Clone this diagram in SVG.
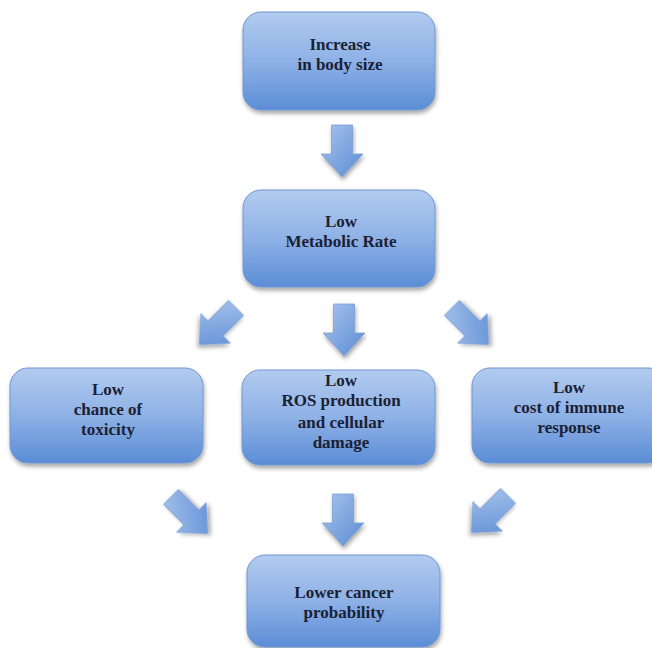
<svg xmlns="http://www.w3.org/2000/svg" width="652" height="648" viewBox="0 0 652 648">
<defs>
<linearGradient id="boxg" x1="0" y1="0" x2="0" y2="1">
<stop offset="0" stop-color="#b2cbef"/>
<stop offset="0.5" stop-color="#8eb1e6"/>
<stop offset="1" stop-color="#5b8dd6"/>
</linearGradient>
<linearGradient id="arrg" x1="0" y1="0" x2="1" y2="1">
<stop offset="0" stop-color="#a9c4ec"/>
<stop offset="1" stop-color="#5a8bd4"/>
</linearGradient>
<filter id="sh" x="-20%" y="-20%" width="140%" height="150%">
<feDropShadow dx="1" dy="3" stdDeviation="2.2" flood-color="#000" flood-opacity="0.35"/>
</filter>
<path id="arrow" d="M-10.5,-27 L10.5,-27 L10.5,2 L21,2 L0,25 L-21,2 L-10.5,2 Z"/>
</defs>
<style>
.box { fill: url(#boxg); stroke: #7096cf; stroke-width: 1; filter: url(#sh); }
.arr { fill: url(#arrg); stroke: #7d9fd4; stroke-width: 0.8; filter: url(#sh); }
text { font-family: "Liberation Serif", "Times New Roman", serif; font-weight: bold; font-size: 17px; fill: #1b2134; text-anchor: middle; }
</style>
<rect width="652" height="648" fill="#ffffff"/>
<g id="connectors">
<use href="#arrow" class="arr" transform="translate(342,152)"/>
<use href="#arrow" class="arr" transform="translate(344,331)"/>
<use href="#arrow" class="arr" transform="translate(217,327) rotate(45)"/>
<use href="#arrow" class="arr" transform="translate(471,327) rotate(-45)"/>
<use href="#arrow" class="arr" transform="translate(343,521)"/>
<use href="#arrow" class="arr" transform="translate(190,516) rotate(-45)"/>
<use href="#arrow" class="arr" transform="translate(489,515) rotate(45)"/>
</g>
<g id="node-body-size">
<rect class="box" x="243" y="12" width="192" height="98" rx="18"/>
<text x="340" y="50">Increase</text>
<text x="340" y="70">in body size</text>
</g>
<g id="node-metabolic">
<rect class="box" x="243" y="190" width="192" height="97" rx="18"/>
<text x="341" y="227">Low</text>
<text x="341" y="247">Metabolic Rate</text>
</g>
<g id="node-toxicity">
<rect class="box" x="10" y="368" width="193" height="95" rx="18"/>
<text x="108" y="395">Low</text>
<text x="108" y="415">chance of</text>
<text x="108" y="435">toxicity</text>
</g>
<g id="node-ros">
<rect class="box" x="242" y="370" width="193" height="95" rx="18"/>
<text x="341" y="386">Low</text>
<text x="341" y="406">ROS production</text>
<text x="341" y="428">and cellular</text>
<text x="341" y="448">damage</text>
</g>
<g id="node-immune">
<rect class="box" x="472" y="368" width="194" height="95" rx="18"/>
<text x="569" y="393">Low</text>
<text x="569" y="413">cost of immune</text>
<text x="569" y="433">response</text>
</g>
<g id="node-cancer">
<rect class="box" x="247" y="555" width="193" height="92" rx="18"/>
<text x="344" y="598">Lower cancer</text>
<text x="344" y="618">probability</text>
</g>
</svg>
